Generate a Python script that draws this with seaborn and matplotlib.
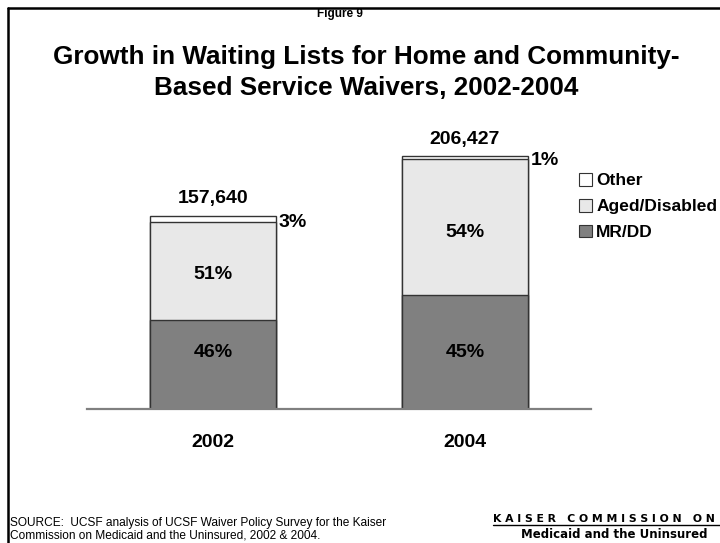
import matplotlib
matplotlib.use("Agg")
import matplotlib.pyplot as plt
from matplotlib.lines import Line2D
from matplotlib.patches import Patch
import numpy as np
import pandas as pd
import seaborn as sns

# Waiting list totals and composition by year
years = ["2002", "2004"]
totals = [157640, 206427]
pct_mrdd = [46, 45]
pct_aged = [51, 54]
pct_other = [3, 1]
total_labels = ["157,640", "206,427"]

series = ["Other", "Aged/Disabled", "MR/DD"]
colors = {"MR/DD": "#808080", "Aged/Disabled": "#E8E8E8", "Other": "#FFFFFF"}

sns.set_theme(style="white")
plt.rcParams["font.family"] = ["Liberation Sans", "DejaVu Sans"]
plt.rcParams["text.color"] = "black"

tot = np.array(totals, dtype=float)
mrdd = tot * np.array(pct_mrdd) / 100
aged = tot * np.array(pct_aged) / 100
other = tot * np.array(pct_other) / 100

df = pd.DataFrame({
    "year": years,
    "mrdd": mrdd,
    "mrdd_aged": mrdd + aged,
    "all": mrdd + aged + other,
})

fig = plt.figure(figsize=(7.2, 5.43), dpi=100)
ax = fig.add_axes([87 / 720, 1 - 409 / 543, 504 / 720, (409 - 103) / 543])

# Stacked bars drawn as overlapping cumulative layers
for col, name in [("all", "Other"), ("mrdd_aged", "Aged/Disabled"), ("mrdd", "MR/DD")]:
    sns.barplot(data=df, x="year", y=col, color=colors[name], edgecolor="#333333",
                linewidth=1.0, width=0.5, saturation=1, ax=ax)

ax.set_xlim(-0.5, 1.5)
ax.set_ylim(0, 250000)
ax.set_xlabel("")
ax.set_ylabel("")
ax.set_yticks([])
ax.set_xticks([])
for s in ["top", "right", "left"]:
    ax.spines[s].set_visible(False)
ax.spines["bottom"].set_color("#808080")
ax.spines["bottom"].set_linewidth(1.6)

lab = dict(fontsize=14, fontweight="bold", color="black", ha="center", va="center")
mr_label_y = 0.185 * ax.get_ylim()[1]
for i in range(len(years)):
    ax.text(i, mr_label_y, f"{pct_mrdd[i]}%", **lab)
    ax.text(i, mrdd[i] + aged[i] / 2 - 0.02 * tot[i], f"{pct_aged[i]}%", **lab)
    ax.text(i + 0.26, tot[i] - other[i] / 2 - 2500, f"{pct_other[i]}%",
            fontsize=14, fontweight="bold", ha="left", va="center")
    ax.text(i, tot[i] + 14000, total_labels[i], **lab)
    ax.text(i, -27500, years[i], **lab)

# Legend
handles = [Patch(facecolor=colors[n], edgecolor="#333333", linewidth=0.8) for n in series]
fig.legend(handles, series, loc="upper left", bbox_to_anchor=(579 / 720, 1 - 173 / 543),
           frameon=False, prop={"weight": "bold", "size": 12.5},
           handlelength=0.75, handleheight=0.75, handletextpad=0.25, labelspacing=0.6,
           borderpad=0, borderaxespad=0)

# Titles
fig.text(340 / 720, 1 - 14 / 543, "Figure 9", fontsize=8.5, fontweight="bold", ha="center", va="center")
fig.text(366 / 720, 1 - 57 / 543, "Growth in Waiting Lists for Home and Community-",
         fontsize=18.8, fontweight="bold", ha="center", va="center")
fig.text(366 / 720, 1 - 88 / 543, "Based Service Waivers, 2002-2004",
         fontsize=18.8, fontweight="bold", ha="center", va="center")

# Source note
fig.text(10 / 720, 1 - 523 / 543, "SOURCE:  UCSF analysis of UCSF Waiver Policy Survey for the Kaiser",
         fontsize=8.6, ha="left", va="center")
fig.text(10 / 720, 1 - 536 / 543, "Commission on Medicaid and the Uninsured, 2002 & 2004.",
         fontsize=8.6, ha="left", va="center")

# Organisation mark
fig.text(493 / 720, 1 - 519 / 543, "K A I S E R   C O M M I S S I O N   O N",
         fontsize=7.8, fontweight="bold", ha="left", va="center", family="DejaVu Sans")
fig.add_artist(Line2D([493 / 720, 1.0], [1 - 525 / 543, 1 - 525 / 543], color="black", lw=1.0))
fig.text(614 / 720, 1 - 534 / 543, "Medicaid and the Uninsured",
         fontsize=8.5, fontweight="heavy", ha="center", va="center", family="DejaVu Sans")

# Frame along the top and left edges
fig.add_artist(Line2D([8 / 720, 1.0], [1 - 8 / 543, 1 - 8 / 543], color="black", lw=1.8))
fig.add_artist(Line2D([8 / 720, 8 / 720], [0.0, 1 - 8 / 543], color="black", lw=1.8))

fig.savefig("out.png", dpi=100)
